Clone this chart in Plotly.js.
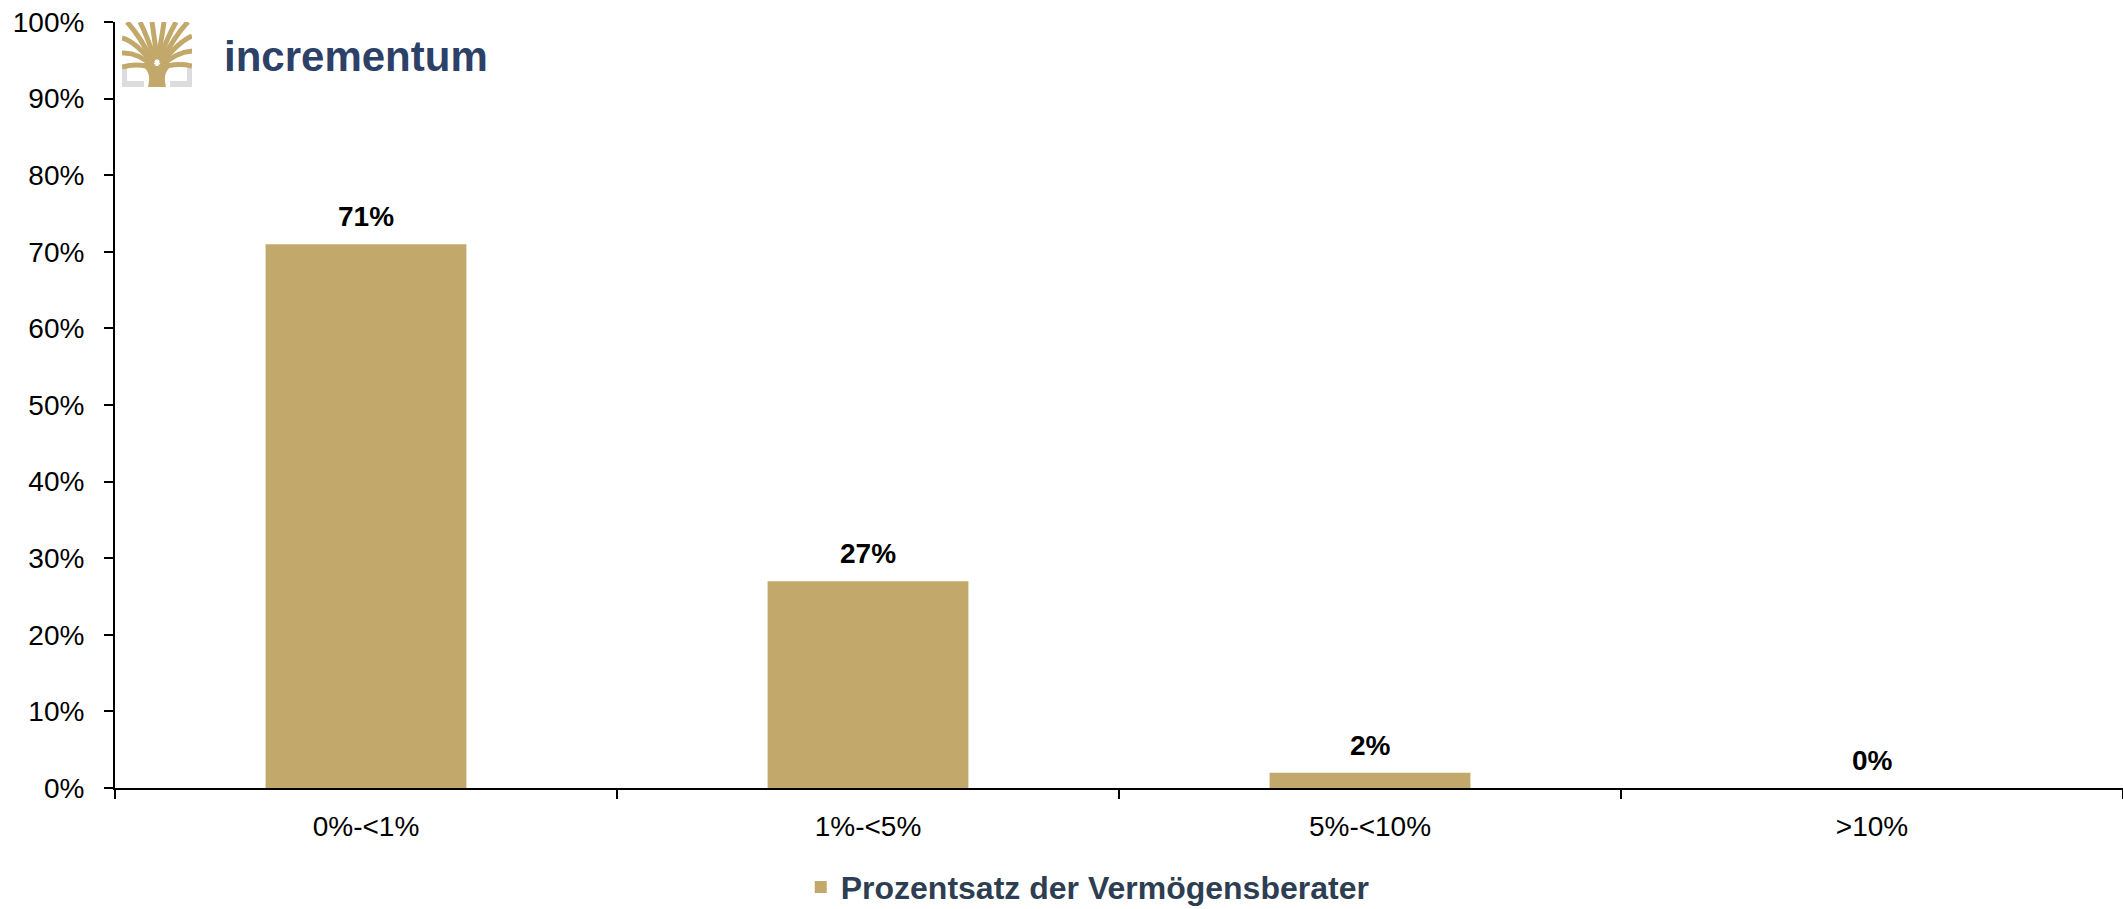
<!DOCTYPE html>
<html>
<head>
<meta charset="utf-8">
<script src="https://cdn.plot.ly/plotly-3.0.1.min.js"></script>
<style>html,body{margin:0;padding:0;background:#fff;}#chart{width:2123px;height:909px;}</style>
</head>
<body>
<div id="chart"></div>
<script>
const categories = ["0%-<1%", "1%-<5%", "5%-<10%", ">10%"];
const values = [0.71, 0.27, 0.02, 0.00];
const valueLabels = ["71%", "27%", "2%", "0%"];
const seriesName = "Prozentsatz der Vermögensberater";
const yTickVals = [0, 0.1, 0.2, 0.3, 0.4, 0.5, 0.6, 0.7, 0.8, 0.9, 1.0];

const FONT = "Arial, 'Liberation Sans', sans-serif";
const gold = "#C2A96B";

const logoSvg = '<svg xmlns="http://www.w3.org/2000/svg" viewBox="0 0 70 65" width="70" height="65">' +
  '<path d="M0,46 H5 V59 H22 V65 H0 Z M70,46 H65 V59 H48 V65 H70 Z" fill="#DCDCDE"/>' +
  '<g fill="none" stroke="' + gold + '" stroke-width="5" stroke-linecap="butt">' +
  '<path d="M33,47 Q18,40 0,45"/>' +
  '<path d="M32,45 Q16,30 0,31"/>' +
  '<path d="M31,42 Q14,20 0,16"/>' +
  '<path d="M31,40 Q18,14 5,0"/>' +
  '<path d="M33,38 Q25,14 18,0"/>' +
  '<path d="M35,36 Q32,14 30,0"/>' +
  '<path d="M36,36 Q40,14 42,0"/>' +
  '<path d="M37,38 Q46,14 54,0"/>' +
  '<path d="M39,40 Q54,12 66,0"/>' +
  '<path d="M39,42 Q56,20 70,14"/>' +
  '<path d="M38,45 Q54,30 70,29"/>' +
  '<path d="M37,47 Q52,40 70,44"/>' +
  '</g>' +
  '<path d="M26,65 L44,65 C42,56 42,50 50,43 L44,38 C40,43 37,44 35,44 C33,44 30,43 26,38 L20,43 C28,50 28,56 26,65 Z" fill="' + gold + '"/>' +
  '</svg>';
const logoUri = 'data:image/svg+xml;base64,' + btoa(logoSvg);

const trace = {
  type: "bar",
  x: categories,
  y: values,
  name: seriesName,
  width: 0.4,
  marker: {color: gold, line: {width: 0}},
  hoverinfo: "x+y",
  showlegend: true
};

const annotations = categories.map((c, i) => ({
  x: c, y: values[i], xref: "x", yref: "y",
  text: "<b>" + valueLabels[i] + "</b>",
  showarrow: false, yanchor: "bottom", yshift: 10,
  font: {family: FONT, size: 28, color: "#000"}
}));
annotations.push({
  xref: "paper", yref: "paper", x: 0.0532, y: 0.9556,
  xanchor: "left", yanchor: "middle",
  text: "<b>incrementum</b>", showarrow: false,
  font: {family: FONT, size: 42, color: "#2D4068"}
});

const layout = {
  width: 2123, height: 909,
  margin: {l: 115, r: 0, t: 22, b: 121, pad: 0, autoexpand: false},
  paper_bgcolor: "#fff", plot_bgcolor: "#fff",
  font: {family: FONT, size: 28, color: "#000"},
  bargap: 0.6,
  xaxis: {
    type: "category",
    range: [-0.5, 3.5],
    showgrid: false, zeroline: false,
    showline: true, linecolor: "#000", linewidth: 2,
    ticks: "outside", ticklen: 9, tickwidth: 2, tickcolor: "#000",
    tickson: "boundaries",
    ticklabelstandoff: 12,
    tickfont: {family: FONT, size: 28, color: "#000"},
    automargin: false,
    fixedrange: true
  },
  yaxis: {
    range: [0, 1],
    tickvals: yTickVals,
    tickformat: ".0%",
    showgrid: false, zeroline: false,
    showline: true, linecolor: "#000", linewidth: 2,
    ticks: "outside", ticklen: 9, tickwidth: 2, tickcolor: "#000",
    ticklabelstandoff: 14,
    tickfont: {family: FONT, size: 28, color: "#000"},
    automargin: false,
    fixedrange: true
  },
  showlegend: true,
  legend: {
    orientation: "h",
    x: 0.3415, xanchor: "left",
    y: 0.024, yanchor: "middle",
    yref: "container",
    font: {family: FONT, size: 32, color: "#2E3E52", weight: "bold"},
    bgcolor: "rgba(0,0,0,0)"
  },
  annotations: annotations,
  images: [{
    source: logoUri, xref: "paper", yref: "paper",
    x: 0.0035, y: 1, sizex: 70/2008, sizey: 65/766,
    xanchor: "left", yanchor: "top", sizing: "stretch", layer: "above"
  }]
};

Plotly.newPlot("chart", [trace], layout, {displayModeBar: false, staticPlot: true});
</script>
</body>
</html>
